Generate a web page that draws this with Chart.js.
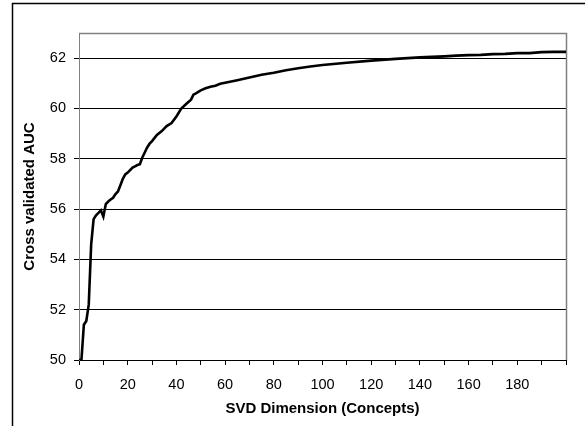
<!DOCTYPE html>
<html>
<head>
<meta charset="utf-8">
<script src="https://cdn.jsdelivr.net/npm/chart.js@4/dist/chart.umd.min.js"></script>
<style>
  html, body { margin: 0; padding: 0; background: #fff; }
  #wrap { position: relative; width: 585px; height: 426px; }
</style>
</head>
<body>
<div id="wrap"><canvas id="c" width="585" height="426"></canvas></div>
<script>
// ---- data ----
const dims = [0,1,2,3,4,5,6,7,8,9,10,11,12,13,14,15,16,17,18,19,20,21,22,23,24,25,26,27,28,29,30,32,34,36,38,40,42,44,46,47,48,50,52,54,56,58,60,65,70,75,80,85,90,95,100,110,120,130,140,150,155,160,165,170,175,180,185,190,195,200];
const auc = [50.0,50.0,51.4,51.55,52.2,54.6,55.6,55.75,55.85,55.95,55.7,56.2,56.3,56.38,56.45,56.6,56.7,56.95,57.2,57.38,57.45,57.55,57.65,57.7,57.75,57.78,58.05,58.25,58.45,58.6,58.7,58.95,59.1,59.3,59.42,59.68,60.0,60.18,60.35,60.55,60.6,60.72,60.8,60.86,60.9,60.98,61.02,61.12,61.23,61.34,61.42,61.52,61.6,61.67,61.73,61.82,61.9,61.97,62.03,62.07,62.1,62.12,62.13,62.16,62.17,62.2,62.2,62.24,62.25,62.25];
const yTickValues = [50,52,54,56,58,60,62];
const xTickValues = [0,10,20,30,40,50,60,70,80,90,100,110,120,130,140,150,160,170,180,190,200];
const xLabelled = [0,20,40,60,80,100,120,140,160,180];
const xTitle = 'SVD Dimension (Concepts)';
const yTitle = 'Cross validated AUC';

const FONT = "'Liberation Sans', Arial, sans-serif";

const framePlugin = {
  id: 'frame',
  beforeDraw(chart) {
    const ctx = chart.ctx;
    ctx.save();
    ctx.fillStyle = '#fff';
    ctx.fillRect(0, 0, chart.width, chart.height);
    ctx.strokeStyle = '#000';
    ctx.lineWidth = 1.5;
    ctx.strokeRect(12.5, 3.5, 700, 600);
    ctx.restore();
  },
  beforeDatasetsDraw(chart) {
    const {ctx, chartArea: a} = chart;
    ctx.save();
    ctx.strokeStyle = '#808080';
    ctx.lineWidth = 1.5;
    ctx.beginPath();
    ctx.moveTo(a.left, a.top + 0.5);
    ctx.lineTo(a.right + 0.5, a.top + 0.5);
    ctx.lineTo(a.right + 0.5, a.bottom);
    ctx.stroke();
    ctx.restore();
  }
};

new Chart(document.getElementById('c'), {
  type: 'line',
  data: {
    datasets: [{
      data: dims.map((d, i) => ({x: d, y: auc[i]})),
      borderColor: '#000',
      borderWidth: 2.6,
      pointRadius: 0,
      tension: 0,
      fill: false
    }]
  },
  options: {
    responsive: false,
    animation: false,
    devicePixelRatio: 1,
    layout: { padding: { left: 0, top: 33, right: 19, bottom: 0 } },
    plugins: { legend: { display: false }, tooltip: { enabled: false } },
    scales: {
      x: {
        type: 'linear',
        min: 0, max: 200,
        afterBuildTicks: s => { s.ticks = xTickValues.map(v => ({value: v})); },
        afterFit: s => { s.height = 66; },
        grid: { drawOnChartArea: false, drawTicks: true, tickLength: 5, color: '#000', lineWidth: 1 },
        border: { display: true, color: '#000', width: 1 },
        ticks: {
          autoSkip: false, maxRotation: 0, padding: 11, color: '#000',
          font: { family: FONT, size: 14.5 },
          callback: v => xLabelled.includes(v) ? String(v) : ''
        },
        title: { display: true, text: xTitle, color: '#000',
          font: { family: FONT, size: 15, weight: 'bold' }, padding: { top: 0, bottom: 8 } }
      },
      y: {
        type: 'linear',
        min: 50, max: 63,
        afterBuildTicks: s => { s.ticks = yTickValues.map(v => ({value: v})); },
        afterFit: s => { s.width = 79; },
        grid: { drawOnChartArea: true, drawTicks: true, tickLength: 5, color: '#000', lineWidth: 1 },
        border: { display: true, color: '#808080', width: 1 },
        ticks: { padding: 8, color: '#000', font: { family: FONT, size: 14.5 } },
        title: { display: true, text: yTitle, color: '#000',
          font: { family: FONT, size: 15, weight: 'bold' }, padding: { top: 21, bottom: 0 } }
      }
    }
  },
  plugins: [framePlugin]
});
</script>
</body>
</html>
